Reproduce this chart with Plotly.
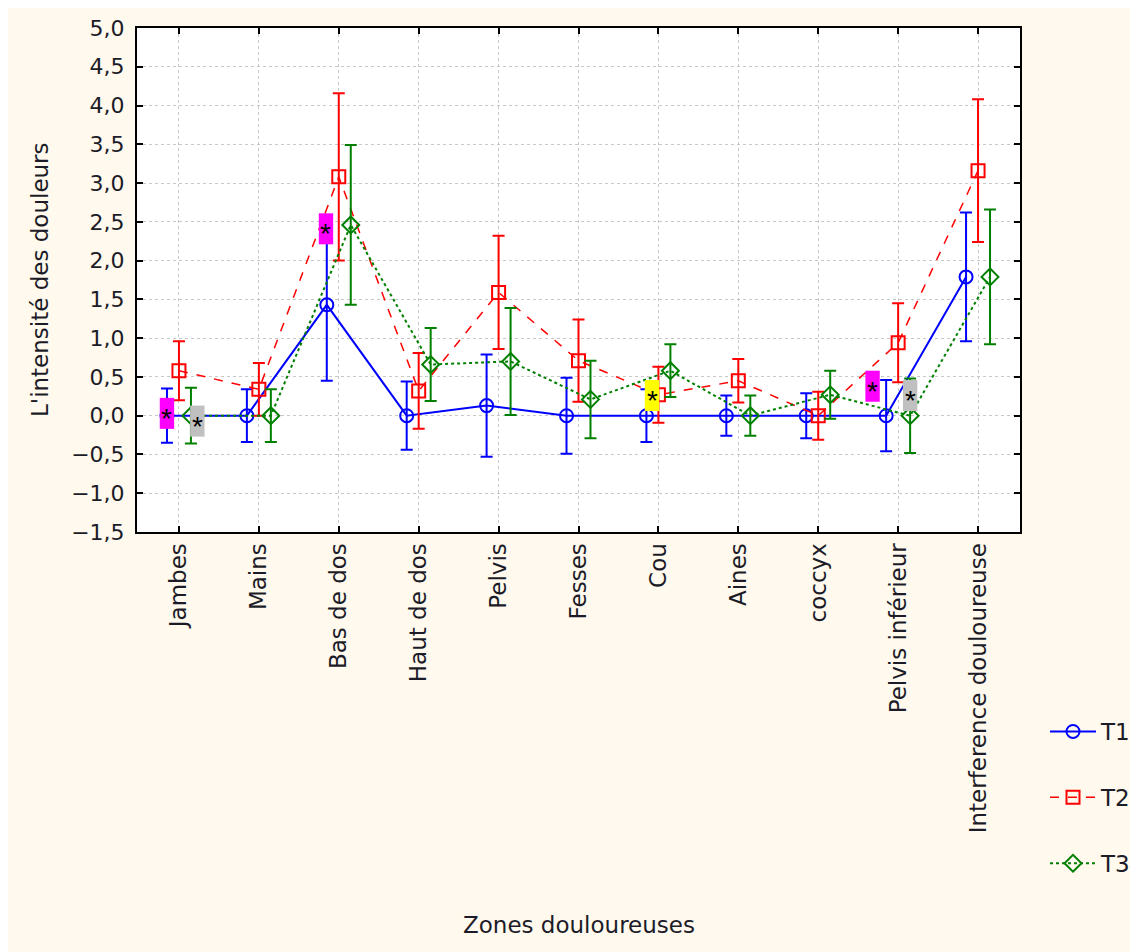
import plotly.graph_objects as go

categories = ["Jambes", "Mains", "Bas de dos", "Haut de dos", "Pelvis", "Fesses",
              "Cou", "Aines", "coccyx", "Pelvis inférieur", "Interference douloureuse"]

t1_mean = [0.0, 0.0, 1.43, 0.0, 0.13, 0.0, 0.0, 0.0, 0.0, 0.0, 1.79]
t1_err  = [0.35, 0.34, 0.98, 0.44, 0.66, 0.49, 0.34, 0.26, 0.29, 0.46, 0.83]
t2_mean = [0.58, 0.34, 3.08, 0.32, 1.59, 0.71, 0.27, 0.45, 0.0, 0.94, 3.16]
t2_err  = [0.38, 0.34, 1.08, 0.49, 0.73, 0.53, 0.36, 0.28, 0.31, 0.51, 0.92]
t3_mean = [0.0, 0.0, 2.46, 0.66, 0.70, 0.21, 0.58, 0.0, 0.27, 0.0, 1.79]
t3_err  = [0.36, 0.34, 1.03, 0.47, 0.69, 0.50, 0.34, 0.26, 0.31, 0.48, 0.87]

series_names = ["T1", "T2", "T3"]
series_offsets = [-0.15, 0.0, 0.15]

# significance markers: (category index, offset, y centre, colour)
sig_cat = [0, 0, 2, 6, 9, 9]
sig_off = [-0.15, 0.23, -0.16, -0.08, -0.32, 0.15]
sig_y = [0.03, -0.07, 2.41, 0.26, 0.38, 0.26]
sig_col = ["#FF00FF", "#C0C0C0", "#FF00FF", "#FFFF00", "#FF00FF", "#C0C0C0"]

y_ticks = [-1.5, -1.0, -0.5, 0.0, 0.5, 1.0, 1.5, 2.0, 2.5, 3.0, 3.5, 4.0, 4.5, 5.0]

FONT = "DejaVu Sans"
TXT = "#1C1C28"

fig = go.Figure()
styles = [
    dict(color="#0000FF", dash="solid", symbol="circle-open", width=2),
    dict(color="#FF0000", dash="dash", symbol="square-open", width=1.5),
    dict(color="#008000", dash="dot", symbol="diamond-open", width=2),
]
data = [(t1_mean, t1_err), (t2_mean, t2_err), (t3_mean, t3_err)]
for i, (name, off, (m, e), st) in enumerate(zip(series_names, series_offsets, data, styles)):
    xs = [k + off for k in range(len(categories))]
    fig.add_trace(go.Scatter(
        x=xs, y=m, name=name, mode="lines+markers",
        legendgroup=name,
        line=dict(color=st["color"], dash=st["dash"], width=st["width"]),
        marker=dict(symbol=st["symbol"], size=13, color=st["color"],
                    line=dict(width=2, color=st["color"])),
        error_y=dict(type="data", array=e, visible=True, color=st["color"],
                     thickness=2, width=6),
    ))

bw = 0.09
bh = 0.2
for c, o, yc, col in zip(sig_cat, sig_off, sig_y, sig_col):
    xc = c + o
    fig.add_shape(type="rect", xref="x", yref="y", x0=xc - bw, x1=xc + bw,
                  y0=yc - bh, y1=yc + bh, fillcolor=col, line=dict(width=0),
                  layer="above")
    fig.add_annotation(x=xc, y=yc, xref="x", yref="y", text="*", showarrow=False,
                       font=dict(size=28, color="black", family="Liberation Sans"), yshift=-5)

fig.add_annotation(text="Zones douloureuses", xref="paper", yref="paper",
                   x=0.5, y=(532 - 925) / 504, xanchor="center", yanchor="middle",
                   showarrow=False, font=dict(size=23, color=TXT, family=FONT))
fig.add_annotation(text="L'intensité des douleurs", xref="paper", yref="paper",
                   x=(40 - 137) / 883, y=0.5, xanchor="center", yanchor="middle",
                   showarrow=False, textangle=-90,
                   font=dict(size=23, color=TXT, family=FONT))

axis_common = dict(showline=True, linecolor="black", linewidth=2, mirror="ticks",
                   ticks="inside", ticklen=6, tickwidth=2, tickcolor="black",
                   showgrid=True, gridcolor="#C8C8C8", griddash="dot", gridwidth=1,
                   zeroline=False)

fig.update_layout(
    width=1138, height=952,
    margin=dict(l=129, r=126, t=20, b=428, autoexpand=False),
    paper_bgcolor="#FFF9EE", plot_bgcolor="white",
    separators=",.",
    showlegend=True,
    legend=dict(x=(1045 - 137) / 883, y=(532 - 710) / 504, xanchor="left", yanchor="top",
                bgcolor="rgba(0,0,0,0)", tracegroupgap=33, itemwidth=46,
                font=dict(size=23, color=TXT, family=FONT)),
    xaxis=dict(range=[-0.525, 10.525], tickvals=list(range(len(categories))),
               ticktext=categories, tickangle=-90,
               tickfont=dict(size=23, color=TXT, family=FONT), **axis_common),
    yaxis=dict(range=[-1.5, 5.0], tickvals=y_ticks, tickformat=".1f",
               ticklabelstandoff=6,
               tickfont=dict(size=22, color=TXT, family=FONT), **axis_common),
)

fig.write_html("out.html")
